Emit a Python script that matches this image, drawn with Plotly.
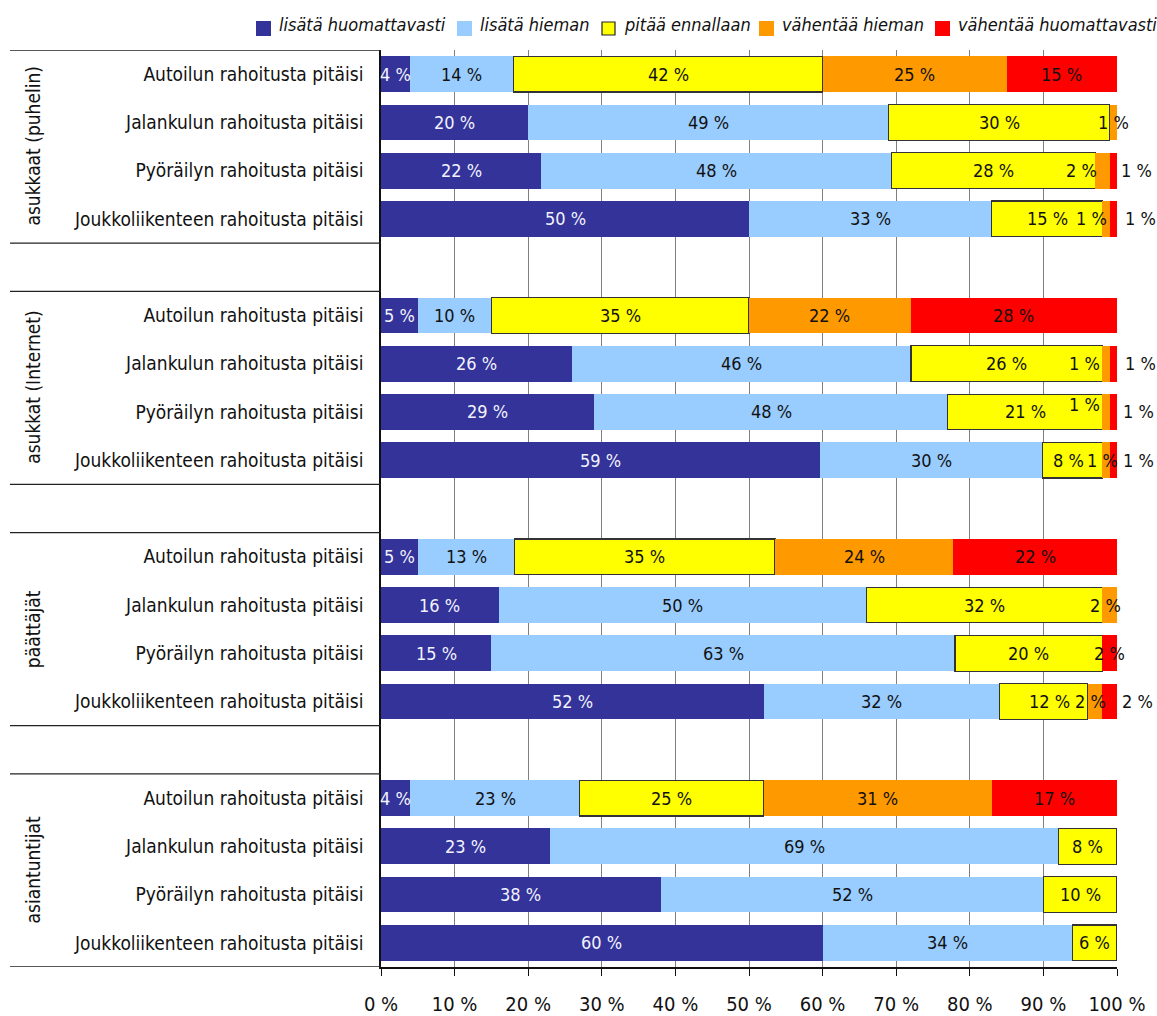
import plotly.graph_objects as go

# Respondent groups and the four questions asked of each group
groups = ["asukkaat (puhelin)", "asukkat (Internet)", "päättäjät", "asiantuntijat"]
items = [
    "Autoilun rahoitusta pitäisi",
    "Jalankulun rahoitusta pitäisi",
    "Pyöräilyn rahoitusta pitäisi",
    "Joukkoliikenteen rahoitusta pitäisi",
]
series_names = [
    "lisätä huomattavasti",
    "lisätä hieman",
    "pitää ennallaan",
    "vähentää hieman",
    "vähentää huomattavasti",
]

# Shares (%) per question, in group order: puhelin, Internet, päättäjät, asiantuntijat
lisata_huomattavasti = [4, 20, 22, 50, 5, 26, 29, 59, 5, 16, 15, 52, 4, 23, 38, 60]
lisata_hieman = [14, 49, 48, 33, 10, 46, 48, 30, 13, 50, 63, 32, 23, 69, 52, 34]
pitaa_ennallaan = [42, 30, 28, 15, 35, 26, 21, 8, 35, 32, 20, 12, 25, 8, 10, 6]
vahentaa_hieman = [25, 1, 2, 1, 22, 1, 1, 1, 24, 2, 0, 2, 31, 0, 0, 0]
vahentaa_huomattavasti = [15, 0, 1, 1, 28, 1, 1, 1, 22, 0, 2, 2, 17, 0, 0, 0]

values = [lisata_huomattavasti, lisata_hieman, pitaa_ennallaan,
          vahentaa_hieman, vahentaa_huomattavasti]
colors = ["#333399", "#99CCFF", "#FFFF00", "#FF9900", "#FF0000"]
text_colors = ["#F2F2FF", "#111111", "#111111", "#111111", "#111111"]

FONT = "Liberation Sans Narrow, Arial Narrow, DejaVu Sans Condensed, sans-serif"

W, H = 1157, 1016
M_L, M_R, M_T, M_B = 381, 40, 50, 49
PW, PH = W - M_L - M_R, H - M_T - M_B


def px_x(px):
    """Page x pixel -> paper coordinate."""
    return (px - M_L) / PW


def px_y(py):
    """Page y pixel (from top) -> paper coordinate."""
    return 1 + (M_T - py) / PH


# Each group takes four rows, followed by one empty spacer row
n_items = len(items)
row_of = [g * (n_items + 1) + i for g in range(len(groups)) for i in range(n_items)]
n_rows = len(groups) * (n_items + 1) - 1

# Nudges (px) for labels of very thin segments so they do not overlap
label_shift = {
    (2, 3): (-21, 0), (2, 4): (23, 0),
    (3, 3): (-14, 0), (3, 4): (27, 0),
    (5, 3): (-21, 0), (5, 4): (27, 0),
    (6, 3): (-21, 7), (6, 4): (25, 0),
    (7, 2): (-4, 0), (7, 3): (-3, 0), (7, 4): (25, 0),
    (9, 3): (-4, 0),
    (11, 2): (6, 0), (11, 3): (-4, 0), (11, 4): (28, 0),
}

fig = go.Figure()
for s, name in enumerate(series_names):
    line = dict(color="#333333", width=1.2) if s == 2 else dict(width=0)
    fig.add_trace(go.Bar(
        name=name,
        orientation="h",
        x=values[s],
        y=row_of,
        width=0.74,
        marker=dict(color=colors[s], line=line),
        hoverinfo="skip",
        showlegend=False,
    ))

# Segment labels, centred on each (normalised) segment
annotations = []
for k in range(len(row_of)):
    row_vals = [values[s][k] for s in range(len(series_names))]
    total = sum(row_vals)
    start = 0.0
    for s, v in enumerate(row_vals):
        share = v / total * 100
        if v > 0:
            dx, dy = label_shift.get((k, s), (0, 0))
            annotations.append(dict(
                x=start + share / 2, y=row_of[k], xref="x", yref="y",
                text=f"{v} %", showarrow=False, xshift=dx, yshift=dy,
                xanchor="center", yanchor="middle",
                font=dict(family=FONT, size=18, color=text_colors[s]),
            ))
        start += share

# Rotated group names on the far left
for g, gname in enumerate(groups):
    annotations.append(dict(
        x=px_x(33), y=g * (n_items + 1) + (n_items - 1) / 2,
        xref="paper", yref="y", text=gname, textangle=-90, showarrow=False,
        xanchor="center", yanchor="middle",
        font=dict(family=FONT, size=19, color="#111111"),
    ))

# Horizontal separators framing each group in the label area
shapes = []
for g in range(len(groups)):
    top = g * (n_items + 1) - 0.5
    bottom = top + n_items
    for yv in (top, bottom):
        shapes.append(dict(
            type="line", xref="paper", yref="y", x0=px_x(10), x1=0,
            y0=yv, y1=yv, line=dict(color="#222222", width=1.3),
        ))

# Legend row above the plot: coloured square followed by italic name
legend_square_left = [256, 457, 601, 759, 935]
SQ = 15
sq_top, sq_bottom = 21, 36
for s, name in enumerate(series_names):
    x0 = legend_square_left[s]
    border = dict(color="#222222", width=1.2) if s == 2 else dict(width=0)
    inset = 1 if s == 2 else 0
    shapes.append(dict(
        type="rect", xref="paper", yref="paper",
        x0=px_x(x0 + inset), x1=px_x(x0 + SQ - inset),
        y0=px_y(sq_bottom - inset), y1=px_y(sq_top + inset),
        fillcolor=colors[s], line=border, layer="above",
    ))
    annotations.append(dict(
        x=px_x(x0 + SQ + 6), y=px_y(25), xref="paper", yref="paper",
        text=name, showarrow=False, xanchor="left", yanchor="middle",
        font=dict(family=FONT, size=18, style="italic", color="#111111"),
    ))

fig.update_layout(
    barmode="stack",
    barnorm="percent",
    width=W,
    height=H,
    margin=dict(l=M_L, r=M_R, t=M_T, b=M_B, autoexpand=False),
    plot_bgcolor="white",
    paper_bgcolor="white",
    font=dict(family=FONT, size=18, color="#111111"),
    showlegend=False,
    annotations=annotations,
    shapes=shapes,
)

fig.update_xaxes(
    range=[0, 100], tickmode="linear", tick0=0, dtick=10, ticksuffix=" %",
    showgrid=True, gridcolor="#808080", gridwidth=1,
    showline=True, linecolor="#111111", linewidth=1.5,
    ticks="outside", ticklen=7, tickcolor="#111111",
    ticklabelstandoff=11, zeroline=False,
    tickfont=dict(family=FONT, size=20),
)
fig.update_yaxes(
    range=[n_rows - 0.5, -0.5], tickmode="array",
    tickvals=row_of, ticktext=[items[k % n_items] for k in range(len(row_of))],
    showgrid=False, showline=True, linecolor="#111111", linewidth=1.5,
    ticks="", ticklabelstandoff=12, zeroline=False,
    tickfont=dict(family=FONT, size=19),
)

fig.write_html("out.html")
